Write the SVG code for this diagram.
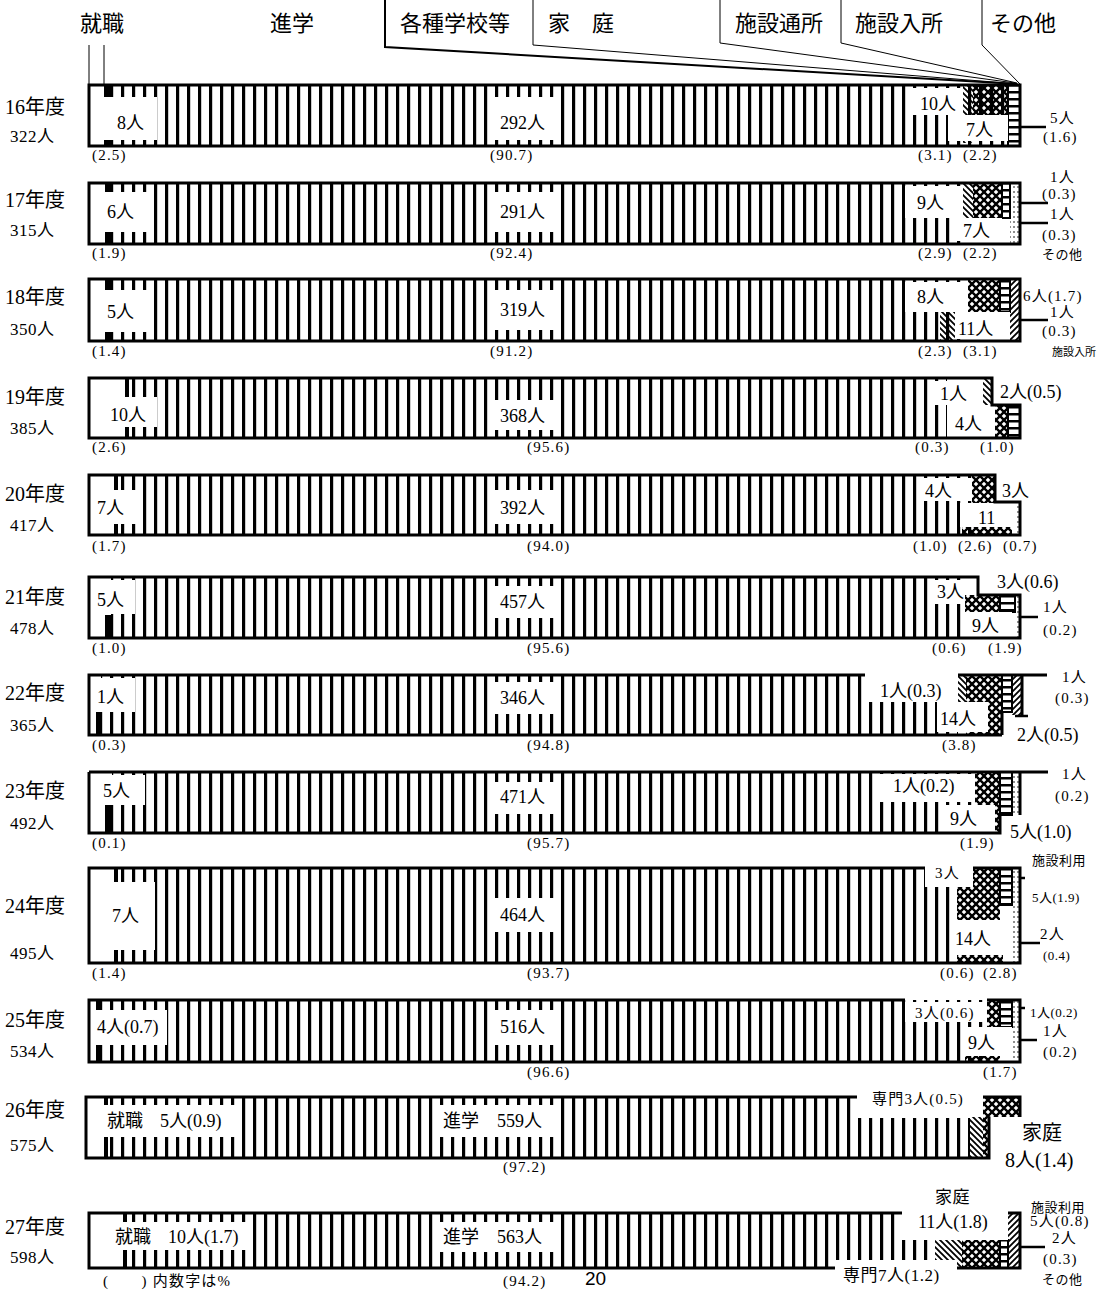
<svg xmlns="http://www.w3.org/2000/svg" width="1104" height="1290" viewBox="0 0 1104 1290">
<defs>
<pattern id="vs" width="11" height="10" patternUnits="userSpaceOnUse"><rect x="0" y="0" width="3.2" height="10" fill="#000"/></pattern>
<pattern id="bd" width="6" height="6" patternUnits="userSpaceOnUse"><path d="M-1,-1 L7,7 M-1,5 L1,7 M5,-1 L7,1" stroke="#000" stroke-width="1.8"/></pattern>
<pattern id="fd" width="6" height="6" patternUnits="userSpaceOnUse"><path d="M-1,7 L7,-1 M-1,1 L1,-1 M5,7 L7,5" stroke="#000" stroke-width="1.8"/></pattern>
<pattern id="xh" width="8" height="8" patternUnits="userSpaceOnUse"><path d="M0,0 L8,8 M8,0 L0,8" stroke="#000" stroke-width="2.4"/></pattern>
<pattern id="ld" width="10" height="7" patternUnits="userSpaceOnUse"><rect x="0" y="0" width="10" height="2.5" fill="#000"/></pattern>
<pattern id="dt" width="4" height="5" patternUnits="userSpaceOnUse"><circle cx="2" cy="2" r="0.8" fill="#000"/></pattern>
</defs>
<style>
text{font-family:"Liberation Serif","Noto Sans CJK JP",serif;fill:#000}
.h{font-size:22px}
.y{font-size:20px}
.tt{font-size:17px;letter-spacing:0.5px}
.n{font-size:18px}
.p{font-size:15px;letter-spacing:1.2px}
.s{font-size:13px;letter-spacing:0.5px}
.xs{font-size:11px}
.o{fill:none;stroke:#000;stroke-width:3}
.c{fill:none;stroke:#000;stroke-width:2.5}
.w{fill:#fff}
.ld{fill:url(#ld);stroke:#000;stroke-width:2}
.g{fill:none;stroke:#000;stroke-width:1}
</style>
<rect width="1104" height="1290" fill="#fff"/>

<g id="header">
<text class="h" x="80" y="31">就職</text>
<text class="h" x="270" y="31">進学</text>
<text class="h" x="400" y="31">各種学校等</text>
<text class="h" x="548" y="31">家　庭</text>
<text class="h" x="735" y="31">施設通所</text>
<text class="h" x="855" y="31">施設入所</text>
<text class="h" x="990" y="31">その他</text>
</g>

<g id="connectors">
<path class="g" d="M89,45 V85 M104,45 V85"/>
<path d="M385,0 V47 L1017,84" fill="none" stroke="#000" stroke-width="2"/>
<path class="g" d="M533,0 V45 L1018,84"/>
<path class="g" d="M720,0 V43 L1015,83"/>
<path class="g" d="M841,0 V43 L1017,83"/>
<path class="g" d="M982,0 V45 L1020,84"/>
<path class="c" d="M1020,127 H1046"/>
<path class="c" d="M1002,203 H1048 M1020,223 H1048"/>
<path class="c" d="M1020,320 H1048"/>
<path class="c" d="M1020,617 H1038"/>
<path class="c" d="M1015,716 H1028"/>
<path class="c" d="M1005,878 H1025 M1020,943 H1040"/>
<path class="c" d="M1002,1008 H1025 M1020,1040 H1037"/>
<path class="c" d="M1020,1247 H1045"/>
</g>

<g id="bar16">
<rect class="w" x="89" y="85" width="931" height="61"/>
<rect x="110" y="85" width="898" height="61" fill="url(#vs)"/>
<rect x="104" y="85" width="6" height="61" fill="#000"/>
<rect x="963" y="85" width="10" height="58" fill="url(#bd)"/>
<rect x="973" y="85" width="35" height="30" fill="url(#xh)"/>
<rect class="ld" x="1008" y="85" width="12" height="61"/>
<rect class="w" x="97" y="97" width="60" height="43"/>
<rect class="w" x="488" y="97" width="68" height="43"/>
<rect class="w" x="912" y="88" width="51" height="27"/>
<rect class="w" x="948" y="115" width="60" height="26"/>
<rect class="o" x="89" y="85" width="931" height="61"/>
<text class="y" x="5" y="114">16年度</text>
<text class="tt" x="10" y="142">322人</text>
<text class="n" x="117" y="129">8人</text>
<text class="n" x="500" y="129">292人</text>
<text class="n" x="920" y="110">10人</text>
<text class="n" x="966" y="136">7人</text>
<text class="p" x="1050" y="123">5人</text>
<text class="p" x="1043" y="142">(1.6)</text>
<text class="p" x="92" y="160">(2.5)</text>
<text class="p" x="490" y="160">(90.7)</text>
<text class="p" x="918" y="160">(3.1)</text>
<text class="p" x="963" y="160">(2.2)</text>
</g>

<g id="bar17">
<rect class="w" x="89" y="183" width="931" height="61"/>
<rect x="112" y="183" width="851" height="61" fill="url(#vs)"/>
<rect x="105" y="183" width="7" height="61" fill="#000"/>
<rect x="963" y="183" width="10" height="58" fill="url(#bd)"/>
<rect x="973" y="183" width="29" height="35" fill="url(#xh)"/>
<rect class="ld" x="1002" y="183" width="8" height="35"/>
<rect x="1010" y="183" width="10" height="61" fill="url(#dt)"/>
<rect class="w" x="95" y="192" width="57" height="40"/>
<rect class="w" x="488" y="192" width="68" height="40"/>
<rect class="w" x="905" y="186" width="58" height="32"/>
<rect class="w" x="955" y="218" width="47" height="23"/>
<rect class="o" x="89" y="183" width="931" height="61"/>
<text class="y" x="5" y="207">17年度</text>
<text class="tt" x="10" y="236">315人</text>
<text class="n" x="107" y="218">6人</text>
<text class="n" x="500" y="218">291人</text>
<text class="n" x="917" y="209">9人</text>
<text class="n" x="963" y="237">7人</text>
<text class="p" x="1050" y="182">1人</text>
<text class="p" x="1042" y="199">(0.3)</text>
<text class="p" x="1050" y="219">1人</text>
<text class="p" x="1042" y="240">(0.3)</text>
<text class="s" x="1042" y="259">その他</text>
<text class="p" x="92" y="258">(1.9)</text>
<text class="p" x="490" y="258">(92.4)</text>
<text class="p" x="918" y="258">(2.9)</text>
<text class="p" x="963" y="258">(2.2)</text>
</g>

<g id="bar18">
<rect class="w" x="89" y="279" width="931" height="62"/>
<rect x="112" y="279" width="856" height="62" fill="url(#vs)"/>
<rect x="105" y="279" width="7" height="62" fill="#000"/>
<rect x="940" y="312" width="15" height="28" fill="url(#bd)"/>
<rect x="968" y="279" width="32" height="33" fill="url(#xh)"/>
<rect class="ld" x="1000" y="279" width="10" height="33"/>
<rect x="1010" y="279" width="10" height="62" fill="url(#fd)"/>
<rect class="w" x="95" y="290" width="57" height="42"/>
<rect class="w" x="488" y="290" width="68" height="40"/>
<rect class="w" x="905" y="282" width="63" height="30"/>
<rect class="w" x="955" y="312" width="55" height="27"/>
<rect class="o" x="89" y="279" width="931" height="62"/>
<text class="y" x="5" y="304">18年度</text>
<text class="tt" x="10" y="335">350人</text>
<text class="n" x="107" y="318">5人</text>
<text class="n" x="500" y="316">319人</text>
<text class="n" x="917" y="303">8人</text>
<text class="n" x="958" y="335">11人</text>
<text class="p" x="1023" y="301">6人(1.7)</text>
<text class="p" x="1050" y="317">1人</text>
<text class="p" x="1042" y="336">(0.3)</text>
<text class="xs" x="1052" y="356">施設入所</text>
<text class="p" x="92" y="356">(1.4)</text>
<text class="p" x="490" y="356">(91.2)</text>
<text class="p" x="918" y="356">(2.3)</text>
<text class="p" x="963" y="356">(3.1)</text>
</g>

<g id="bar19">
<path class="w" d="M89,378 H992 V405 H1020 V438 H89 Z"/>
<rect x="130" y="378" width="817" height="60" fill="url(#vs)"/>
<rect x="125" y="378" width="4" height="60" fill="#000"/>
<rect x="983" y="378" width="9" height="27" fill="url(#bd)"/>
<rect x="995" y="405" width="13" height="33" fill="url(#xh)"/>
<rect class="ld" x="1008" y="405" width="12" height="33"/>
<rect class="w" x="92" y="397" width="65" height="30"/>
<rect class="w" x="488" y="400" width="68" height="30"/>
<rect class="w" x="930" y="381" width="53" height="24"/>
<rect class="w" x="947" y="405" width="48" height="31"/>
<path class="o" d="M89,378 H992 V405 H1020 V438 H89 Z"/>
<text class="y" x="5" y="404">19年度</text>
<text class="tt" x="10" y="434">385人</text>
<text class="n" x="110" y="421">10人</text>
<text class="n" x="500" y="422">368人</text>
<text class="n" x="940" y="400">1人</text>
<text class="n" x="955" y="430">4人</text>
<text class="n" x="1000" y="398">2人(0.5)</text>
<text class="p" x="92" y="452">(2.6)</text>
<text class="p" x="527" y="452">(95.6)</text>
<text class="p" x="915" y="452">(0.3)</text>
<text class="p" x="980" y="452">(1.0)</text>
</g>

<g id="bar20">
<path class="w" d="M89,475 H995 V502 H1020 V535 H89 Z"/>
<rect x="118" y="475" width="854" height="60" fill="url(#vs)"/>
<rect x="114" y="475" width="4" height="60" fill="#000"/>
<rect x="972" y="475" width="23" height="28" fill="url(#xh)"/>
<rect x="962" y="527" width="50" height="8" fill="url(#xh)"/>
<rect x="1015" y="502" width="5" height="33" fill="url(#dt)"/>
<rect class="w" x="89" y="490" width="54" height="34"/>
<rect class="w" x="488" y="490" width="68" height="34"/>
<rect class="w" x="922" y="478" width="50" height="23"/>
<rect class="w" x="960" y="503" width="55" height="24"/>
<path class="o" d="M89,475 H995 V502 H1020 V535 H89 Z"/>
<text class="y" x="5" y="501">20年度</text>
<text class="tt" x="10" y="531">417人</text>
<text class="n" x="97" y="514">7人</text>
<text class="n" x="500" y="514">392人</text>
<text class="n" x="925" y="497">4人</text>
<text class="n" x="978" y="524">11</text>
<text class="n" x="1002" y="497">3人</text>
<text class="p" x="92" y="551">(1.7)</text>
<text class="p" x="527" y="551">(94.0)</text>
<text class="p" x="913" y="551">(1.0)</text>
<text class="p" x="958" y="551">(2.6)</text>
<text class="p" x="1003" y="551">(0.7)</text>
</g>

<g id="bar21">
<path class="w" d="M89,577 H978 V595 H1020 V638 H89 Z"/>
<rect x="111" y="577" width="854" height="61" fill="url(#vs)"/>
<rect x="105" y="615" width="6" height="23" fill="#000"/>
<rect x="965" y="595" width="35" height="17" fill="url(#xh)"/>
<rect class="ld" x="1000" y="595" width="15" height="17"/>
<rect x="1015" y="595" width="5" height="43" fill="url(#dt)"/>
<rect class="w" x="89" y="580" width="46" height="34"/>
<rect class="w" x="488" y="586" width="68" height="32"/>
<rect class="w" x="935" y="580" width="30" height="24"/>
<rect class="w" x="963" y="612" width="49" height="24"/>
<path class="o" d="M89,577 H978 V595 H1020 V638 H89 Z"/>
<text class="y" x="5" y="604">21年度</text>
<text class="tt" x="10" y="634">478人</text>
<text class="n" x="97" y="606">5人</text>
<text class="n" x="500" y="608">457人</text>
<text class="n" x="937" y="598">3人</text>
<text class="n" x="972" y="632">9人</text>
<text class="n" x="997" y="588">3人(0.6)</text>
<text class="p" x="1043" y="612">1人</text>
<text class="p" x="1043" y="635">(0.2)</text>
<text class="p" x="92" y="653">(1.0)</text>
<text class="p" x="527" y="653">(95.6)</text>
<text class="p" x="932" y="653">(0.6)</text>
<text class="p" x="988" y="653">(1.9)</text>
</g>

<g id="bar22">
<rect class="w" x="89" y="675" width="913" height="60"/>
<rect x="101" y="675" width="857" height="60" fill="url(#vs)"/>
<rect x="96" y="712" width="5" height="23" fill="#000"/>
<rect class="w" x="865" y="672" width="93" height="30"/>
<rect x="958" y="675" width="9" height="27" fill="url(#bd)"/>
<rect x="966" y="675" width="36" height="60" fill="url(#xh)"/>
<rect class="ld" x="1002" y="675" width="10" height="37"/>
<rect x="1012" y="675" width="10" height="40" fill="url(#fd)"/>
<rect class="w" x="89" y="678" width="46" height="34"/>
<rect class="w" x="488" y="682" width="68" height="32"/>
<rect class="w" x="937" y="702" width="51" height="30"/>
<path class="o" d="M865,675 H89 V735 H1002 M958,675 H1047 M1022,675 V715 M1002,735 V712"/>
<text class="y" x="5" y="700">22年度</text>
<text class="tt" x="10" y="731">365人</text>
<text class="n" x="97" y="703">1人</text>
<text class="n" x="500" y="704">346人</text>
<text class="n" x="880" y="697">1人(0.3)</text>
<text class="n" x="940" y="725">14人</text>
<text class="p" x="1062" y="682">1人</text>
<text class="p" x="1055" y="703">(0.3)</text>
<text class="n" x="1017" y="741">2人(0.5)</text>
<text class="p" x="92" y="750">(0.3)</text>
<text class="p" x="527" y="750">(94.8)</text>
<text class="p" x="942" y="750">(3.8)</text>
</g>

<g id="bar23">
<rect class="w" x="89" y="772" width="931" height="61"/>
<rect x="112" y="772" width="863" height="61" fill="url(#vs)"/>
<rect x="105" y="805" width="7" height="28" fill="#000"/>
<rect class="w" x="880" y="774" width="95" height="28"/>
<rect x="975" y="772" width="25" height="61" fill="url(#xh)"/>
<rect class="ld" x="1000" y="772" width="12" height="43"/>
<rect x="1012" y="772" width="8" height="43" fill="url(#dt)"/>
<rect class="w" x="1000" y="816" width="22" height="20"/>
<rect class="w" x="89" y="775" width="56" height="30"/>
<rect class="w" x="488" y="782" width="68" height="32"/>
<rect class="w" x="942" y="805" width="53" height="27"/>
<path class="o" d="M89,772 H1048 M89,772 V833 H1000 V815 M1020,772 V815"/>
<text class="y" x="5" y="798">23年度</text>
<text class="tt" x="10" y="829">492人</text>
<text class="n" x="103" y="797">5人</text>
<text class="n" x="500" y="803">471人</text>
<text class="n" x="893" y="792">1人(0.2)</text>
<text class="n" x="950" y="825">9人</text>
<text class="p" x="1062" y="779">1人</text>
<text class="p" x="1055" y="801">(0.2)</text>
<text class="n" x="1010" y="838">5人(1.0)</text>
<text class="p" x="92" y="848">(0.1)</text>
<text class="p" x="527" y="848">(95.7)</text>
<text class="p" x="960" y="848">(1.9)</text>
</g>

<g id="bar24">
<rect class="w" x="89" y="868" width="931" height="95"/>
<rect x="118" y="868" width="839" height="95" fill="url(#vs)"/>
<rect x="114" y="868" width="4" height="95" fill="#000"/>
<rect class="w" x="925" y="865" width="48" height="22"/>
<rect x="973" y="868" width="27" height="19" fill="url(#xh)"/>
<rect x="957" y="887" width="43" height="33" fill="url(#xh)"/>
<rect x="957" y="955" width="46" height="8" fill="url(#xh)"/>
<rect class="ld" x="1000" y="868" width="12" height="37"/>
<rect x="1012" y="868" width="8" height="95" fill="url(#dt)"/>
<rect class="w" x="89" y="882" width="66" height="68"/>
<rect class="w" x="488" y="898" width="68" height="34"/>
<rect class="w" x="955" y="920" width="48" height="35"/>
<path class="o" d="M925,868 H89 V963 H1020 V868 H973"/>
<text class="y" x="5" y="913">24年度</text>
<text class="tt" x="10" y="959">495人</text>
<text class="n" x="112" y="922">7人</text>
<text class="n" x="500" y="921">464人</text>
<text class="p" x="935" y="878">3人</text>
<text class="n" x="955" y="945">14人</text>
<text class="s" x="1032" y="865">施設利用</text>
<text class="s" x="1032" y="902">5人(1.9)</text>
<text class="p" x="1040" y="939">2人</text>
<text class="s" x="1043" y="960">(0.4)</text>
<text class="p" x="92" y="978">(1.4)</text>
<text class="p" x="527" y="978">(93.7)</text>
<text class="p" x="940" y="978">(0.6)</text>
<text class="p" x="983" y="978">(2.8)</text>
</g>

<g id="bar25">
<rect class="w" x="89" y="1000" width="931" height="62"/>
<rect x="101" y="1000" width="886" height="62" fill="url(#vs)"/>
<rect x="96" y="1000" width="5" height="62" fill="#000"/>
<rect class="w" x="905" y="1002" width="82" height="20"/>
<rect x="987" y="1000" width="13" height="27" fill="url(#xh)"/>
<rect class="ld" x="1000" y="1000" width="12" height="27"/>
<rect x="1012" y="1000" width="8" height="62" fill="url(#dt)"/>
<rect x="965" y="1056" width="35" height="6" fill="url(#xh)"/>
<rect class="w" x="89" y="1010" width="78" height="35"/>
<rect class="w" x="488" y="1010" width="68" height="35"/>
<rect class="w" x="963" y="1027" width="49" height="29"/>
<path class="o" d="M905,1000 H89 V1062 H1020 V1000 H987"/>
<text class="y" x="5" y="1027">25年度</text>
<text class="tt" x="10" y="1057">534人</text>
<text class="n" x="97" y="1033">4人(0.7)</text>
<text class="n" x="500" y="1033">516人</text>
<text class="p" x="915" y="1018">3人(0.6)</text>
<text class="n" x="968" y="1049">9人</text>
<text class="s" x="1030" y="1017">1人(0.2)</text>
<text class="p" x="1043" y="1036">1人</text>
<text class="p" x="1043" y="1057">(0.2)</text>
<text class="p" x="527" y="1077">(96.6)</text>
<text class="p" x="983" y="1077">(1.7)</text>
</g>

<g id="bar26">
<rect class="w" x="86" y="1097" width="904" height="61"/>
<rect x="108" y="1097" width="862" height="61" fill="url(#vs)"/>
<rect x="104" y="1097" width="4" height="61" fill="#000"/>
<rect class="w" x="857" y="1095" width="130" height="23"/>
<rect x="970" y="1117" width="13" height="41" fill="url(#bd)"/>
<rect x="983" y="1117" width="6" height="41" fill="url(#xh)"/>
<rect x="983" y="1097" width="37" height="20" fill="url(#xh)"/>
<rect class="w" x="97" y="1105" width="143" height="32"/>
<rect class="w" x="435" y="1105" width="123" height="32"/>
<path class="o" d="M857,1097 H86 V1158 H989 V1117 M983,1097 H1020 V1117"/>
<text class="y" x="5" y="1117">26年度</text>
<text class="tt" x="10" y="1151">575人</text>
<text class="n" x="107" y="1127">就職</text>
<text class="n" x="160" y="1127">5人(0.9)</text>
<text class="n" x="443" y="1127">進学</text>
<text class="n" x="497" y="1127">559人</text>
<text class="p" x="872" y="1104">専門3人(0.5)</text>
<text class="y" x="1022" y="1140">家庭</text>
<text class="y" x="1005" y="1167">8人(1.4)</text>
<text class="p" x="503" y="1172">(97.2)</text>
</g>

<g id="bar27">
<rect class="w" x="89" y="1213" width="931" height="55"/>
<rect x="127" y="1213" width="773" height="55" fill="url(#vs)"/>
<rect x="123" y="1213" width="4" height="55" fill="#000"/>
<rect x="900" y="1240" width="35" height="28" fill="url(#vs)"/>
<rect x="935" y="1240" width="27" height="28" fill="url(#bd)"/>
<rect x="962" y="1240" width="38" height="28" fill="url(#xh)"/>
<rect class="ld" x="1000" y="1240" width="8" height="28"/>
<rect x="1008" y="1213" width="12" height="55" fill="url(#fd)"/>
<rect class="w" x="900" y="1211" width="108" height="29"/>
<rect class="w" x="835" y="1260" width="122" height="30"/>
<rect class="w" x="100" y="1222" width="150" height="28"/>
<rect class="w" x="435" y="1222" width="123" height="30"/>
<path class="o" d="M902,1213 H89 V1268 H835 M957,1268 H1020 V1213 H1008"/>
<text class="y" x="5" y="1234">27年度</text>
<text class="tt" x="10" y="1263">598人</text>
<text class="n" x="115" y="1243">就職</text>
<text class="n" x="168" y="1243">10人(1.7)</text>
<text class="n" x="443" y="1243">進学</text>
<text class="n" x="497" y="1243">563人</text>
<text class="tt" x="935" y="1203">家庭</text>
<text class="n" x="918" y="1228">11人(1.8)</text>
<text class="tt" x="843" y="1281">専門7人(1.2)</text>
<text class="s" x="1031" y="1212">施設利用</text>
<text class="p" x="1030" y="1226">5人(0.8)</text>
<text class="p" x="1052" y="1243">2人</text>
<text class="p" x="1043" y="1264">(0.3)</text>
<text class="s" x="1042" y="1284">その他</text>
<text class="p" x="103" y="1286">(　　) 内数字は%</text>
<text class="p" x="503" y="1286">(94.2)</text>
<text x="585" y="1285" style="font-family:'Liberation Sans',sans-serif;font-size:19px">20</text>
</g>
</svg>
